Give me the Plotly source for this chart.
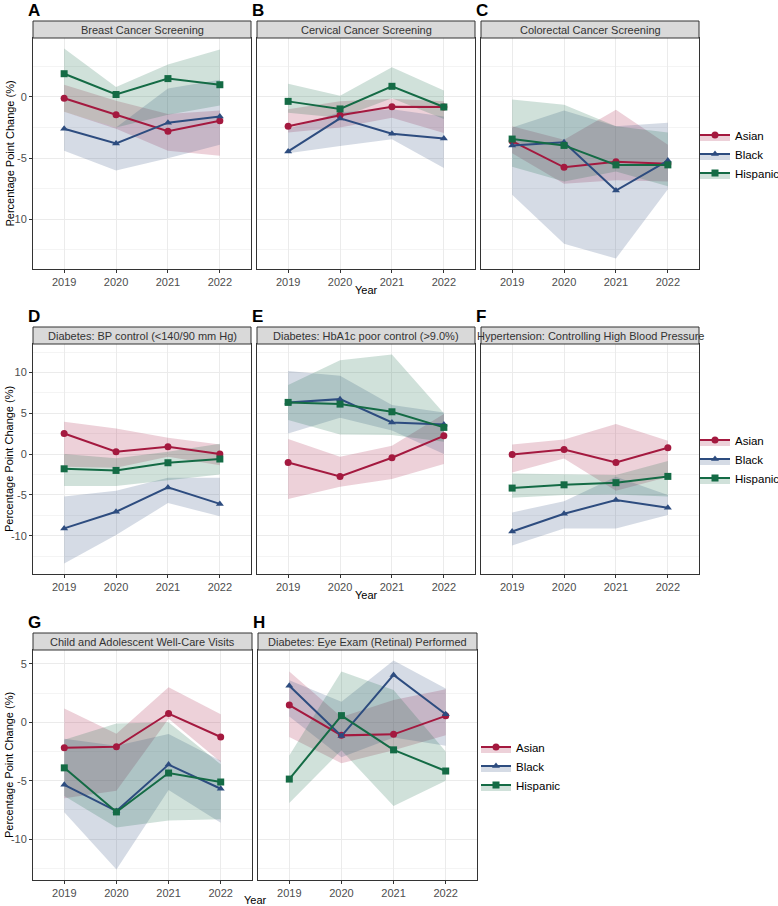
import plotly.graph_objects as go

W, H = 778, 906
FONT = "Liberation Sans, Arial, sans-serif"

years = [2019, 2020, 2021, 2022]
groups = ["Asian", "Black", "Hispanic"]
group_colors = ["#A4193F", "#2D4C7F", "#146B45"]
group_fills = ["rgba(164,25,63,0.2)", "rgba(45,76,127,0.2)", "rgba(20,107,69,0.2)"]
group_symbols = ["circle", "triangle-up", "square"]

panel_titles = [
    "Breast Cancer Screening", "Cervical Cancer Screening", "Colorectal Cancer Screening",
    "Diabetes: BP control (<140/90 mm Hg)", "Diabetes: HbA1c poor control (>9.0%)",
    "Hypertension: Controlling High Blood Pressure",
    "Child and Adolescent Well-Care Visits", "Diabetes: Eye Exam (Retinal) Performed",
]
panel_letters = ["A", "B", "C", "D", "E", "F", "G", "H"]

# ---- A: Breast Cancer Screening
A_asian_mean = [-0.1, -1.45, -2.8, -1.95]
A_asian_lo = [-1.2, -2.6, -4.4, -4.8]
A_asian_hi = [1.0, -0.3, -1.4, -1.1]
A_black_mean = [-2.6, -3.8, -2.1, -1.6]
A_black_lo = [-4.4, -6.0, -5.0, -3.9]
A_black_hi = [-1.2, -2.5, 0.7, 1.4]
A_hisp_mean = [1.9, 0.2, 1.5, 1.0]
A_hisp_lo = [-1.2, -2.5, -1.45, -0.7]
A_hisp_hi = [3.96, 0.82, 2.65, 3.88]
# ---- B: Cervical Cancer Screening
B_asian_mean = [-2.4, -1.5, -0.8, -0.82]
B_asian_lo = [-2.9, -2.5, -1.7, -2.95]
B_asian_hi = [-1.0, -0.35, -0.15, -0.35]
B_black_mean = [-4.45, -1.75, -3.0, -3.4]
B_black_lo = [-4.6, -4.0, -3.45, -5.8]
B_black_hi = [-2.6, -1.25, -1.0, -1.6]
B_hisp_mean = [-0.36, -0.98, 0.87, -0.82]
B_hisp_lo = [-1.3, -1.7, -0.1, -1.8]
B_hisp_hi = [1.07, 0.1, 2.43, 0.52]
# ---- C: Colorectal Cancer Screening
C_asian_mean = [-3.6, -5.75, -5.3, -5.45]
C_asian_lo = [-4.6, -7.1, -6.8, -6.9]
C_asian_hi = [-2.4, -3.5, -1.05, -3.9]
C_black_mean = [-3.96, -3.7, -7.65, -5.2]
C_black_lo = [-8.0, -12.0, -13.2, -7.55]
C_black_hi = [-2.5, -1.1, -2.4, -2.1]
C_hisp_mean = [-3.44, -3.96, -5.55, -5.55]
C_hisp_lo = [-5.7, -6.9, -6.1, -7.3]
C_hisp_hi = [-0.2, -0.63, -2.4, -2.9]
# ---- D: Diabetes BP control
D_asian_mean = [2.53, 0.29, 0.9, 0.0]
D_asian_lo = [-1.55, -1.67, -0.33, -1.35]
D_asian_hi = [3.96, 3.14, 2.0, 1.18]
D_black_mean = [-9.1, -7.06, -4.08, -6.1]
D_black_lo = [-13.4, -9.9, -6.0, -7.6]
D_black_hi = [-5.2, -4.5, -2.9, -2.9]
D_hisp_mean = [-1.8, -2.0, -1.06, -0.6]
D_hisp_lo = [-3.9, -3.9, -3.2, -2.5]
D_hisp_hi = [0.0, -0.5, 0.3, 1.26]
# ---- E: Diabetes HbA1c poor control
E_asian_mean = [-1.02, -2.73, -0.45, 2.24]
E_asian_lo = [-5.5, -4.0, -3.06, -1.22]
E_asian_hi = [1.84, -0.33, 1.02, 4.9]
E_black_mean = [6.33, 6.73, 3.88, 3.63]
E_black_lo = [2.53, 4.45, 2.9, 0.0]
E_black_hi = [10.16, 9.6, 6.0, 5.1]
E_hisp_mean = [6.33, 6.12, 5.18, 3.27]
E_hisp_lo = [4.16, 2.4, 2.33, 1.5]
E_hisp_hi = [8.45, 11.5, 12.2, 5.0]
# ---- F: Hypertension
F_asian_mean = [-0.04, 0.57, -1.02, 0.78]
F_asian_lo = [-2.24, -0.53, -4.5, -2.8]
F_asian_hi = [1.18, 1.8, 3.67, 1.63]
F_black_mean = [-9.47, -7.3, -5.63, -6.57]
F_black_lo = [-11.2, -9.1, -9.1, -7.47]
F_black_hi = [-7.14, -5.76, -2.78, -5.0]
F_hisp_mean = [-4.16, -3.76, -3.5, -2.73]
F_hisp_lo = [-5.35, -5.0, -4.94, -5.2]
F_hisp_hi = [-2.37, -2.45, -2.57, -0.86]
# ---- G: Child and Adolescent Well-Care Visits
G_asian_mean = [-2.18, -2.1, 0.75, -1.26]
G_asian_lo = [-6.5, -5.86, 0.3, -3.4]
G_asian_hi = [1.18, -0.98, 3.0, 0.69]
G_black_mean = [-5.35, -7.6, -3.62, -5.69]
G_black_lo = [-7.7, -12.6, -5.8, -8.6]
G_black_hi = [-1.4, -2.0, -1.0, -3.3]
G_hisp_mean = [-3.9, -7.67, -4.34, -5.11]
G_hisp_lo = [-6.3, -9.0, -8.4, -8.3]
G_hisp_hi = [-1.5, -0.1, 0.0, -3.6]
# ---- H: Diabetes Eye Exam
H_asian_mean = [1.47, -1.12, -1.03, 0.55]
H_asian_lo = [-1.26, -3.5, -2.4, -1.12]
H_asian_hi = [4.34, 0.46, 1.9, 2.82]
H_black_mean = [3.13, -1.18, 4.05, 0.69]
H_black_lo = [0.5, -3.0, -1.3, -2.0]
H_black_hi = [3.6, 1.75, 5.29, 2.9]
H_hisp_mean = [-4.86, 0.57, -2.36, -4.17]
H_hisp_lo = [-6.9, -2.4, -7.16, -5.0]
H_hisp_hi = [-2.84, 4.34, 2.76, -2.5]

panels = [
    [(A_asian_mean, A_asian_lo, A_asian_hi), (A_black_mean, A_black_lo, A_black_hi), (A_hisp_mean, A_hisp_lo, A_hisp_hi)],
    [(B_asian_mean, B_asian_lo, B_asian_hi), (B_black_mean, B_black_lo, B_black_hi), (B_hisp_mean, B_hisp_lo, B_hisp_hi)],
    [(C_asian_mean, C_asian_lo, C_asian_hi), (C_black_mean, C_black_lo, C_black_hi), (C_hisp_mean, C_hisp_lo, C_hisp_hi)],
    [(D_asian_mean, D_asian_lo, D_asian_hi), (D_black_mean, D_black_lo, D_black_hi), (D_hisp_mean, D_hisp_lo, D_hisp_hi)],
    [(E_asian_mean, E_asian_lo, E_asian_hi), (E_black_mean, E_black_lo, E_black_hi), (E_hisp_mean, E_hisp_lo, E_hisp_hi)],
    [(F_asian_mean, F_asian_lo, F_asian_hi), (F_black_mean, F_black_lo, F_black_hi), (F_hisp_mean, F_hisp_lo, F_hisp_hi)],
    [(G_asian_mean, G_asian_lo, G_asian_hi), (G_black_mean, G_black_lo, G_black_hi), (G_hisp_mean, G_hisp_lo, G_hisp_hi)],
    [(H_asian_mean, H_asian_lo, H_asian_hi), (H_black_mean, H_black_lo, H_black_hi), (H_hisp_mean, H_hisp_lo, H_hisp_hi)],
]
panel_row = [0, 0, 0, 1, 1, 1, 2, 2]

# ---- layout geometry (pixels)
col_x = {0: [(33, 251), (257, 475), (481, 699)],
         1: [(33, 251), (257, 475), (481, 699)],
         2: [(33, 252), (258, 477)]}
row_y = [(21, 38, 269), (327, 344, 574), (633, 650, 880)]  # strip top, plot top, plot bottom
legend_pos = [(695, 154), (695, 459), (476, 766)]
year_title_pos = [(366, 290), (366, 595), (255, 900)]


def px_x(p):
    return p / W


def px_y(p):
    return 1 - p / H


# y ranges per row with 5% expansion (ggplot style)
row_ranges = []
for r in range(3):
    vals = []
    for i, p in enumerate(panels):
        if panel_row[i] == r:
            for m, lo, hi in p:
                vals += m + lo + hi
    lo_v, hi_v = min(vals), max(vals)
    pad = 0.05 * (hi_v - lo_v)
    row_ranges.append([lo_v - pad, hi_v + pad])


def tick_list(rng):
    vals = [v for v in range(-20, 25, 5) if rng[0] <= v <= rng[1]]
    return vals, [str(v) for v in vals]


fig = go.Figure()
layout_axes = {}
shapes = []
annotations = []
col_counter = {0: 0, 1: 0, 2: 0}

for i, p in enumerate(panels):
    r = panel_row[i]
    c = col_counter[r]
    col_counter[r] += 1
    x0, x1 = col_x[r][c]
    st, pt, pb = row_y[r]
    n = i + 1
    xa = "x" if n == 1 else f"x{n}"
    ya = "y" if n == 1 else f"y{n}"
    xkey = "xaxis" if n == 1 else f"xaxis{n}"
    ykey = "yaxis" if n == 1 else f"yaxis{n}"
    tv, tt = tick_list(row_ranges[r])
    layout_axes[xkey] = dict(
        domain=[px_x(x0), px_x(x1)], anchor=ya, range=[2018.4, 2022.6],
        tickvals=years, ticktext=[str(y) for y in years],
        showgrid=True, gridcolor="#EBEBEB", gridwidth=1, zeroline=False,
        showline=True, mirror=True, linecolor="#333333", linewidth=1,
        ticks="outside", ticklen=3, tickcolor="#333333",
        tickfont=dict(family=FONT, size=11, color="#4D4D4D"),
    )
    layout_axes[ykey] = dict(
        domain=[px_y(pb), px_y(pt)], anchor=xa, range=row_ranges[r],
        tickmode="array", tickvals=tv, ticktext=tt,
        showgrid=True, gridcolor="#EBEBEB", gridwidth=1,
        minor=dict(tickmode="linear", tick0=2.5, dtick=5, showgrid=True, gridcolor="#F4F4F4", gridwidth=1),
        zeroline=False, showline=True, mirror=True, linecolor="#333333", linewidth=1,
        ticks="outside" if c == 0 else "", ticklen=3, tickcolor="#333333",
        showticklabels=(c == 0),
        tickfont=dict(family=FONT, size=11, color="#4D4D4D"),
    )
    # ribbons
    for g, (m, lo, hi) in enumerate(p):
        fig.add_trace(go.Scatter(
            x=years + years[::-1], y=hi + lo[::-1], xaxis=xa, yaxis=ya,
            fill="toself", fillcolor=group_fills[g], mode="lines",
            line=dict(width=0, color=group_fills[g]), showlegend=False, hoverinfo="skip",
        ))
    # lines + points
    for g, (m, lo, hi) in enumerate(p):
        fig.add_trace(go.Scatter(
            x=years, y=m, xaxis=xa, yaxis=ya, mode="lines+markers",
            line=dict(color=group_colors[g], width=2),
            marker=dict(symbol=group_symbols[g], size=7, color=group_colors[g]),
            name=groups[g], showlegend=False,
        ))
    # strip
    shapes.append(dict(type="rect", xref="paper", yref="paper",
                       x0=px_x(x0), x1=px_x(x1), y0=px_y(pt), y1=px_y(st),
                       fillcolor="#D9D9D9", line=dict(color="#333333", width=1), layer="above"))
    annotations.append(dict(x=px_x((x0 + x1) / 2), y=px_y((st + pt) / 2), xref="paper", yref="paper",
                            text=panel_titles[i], showarrow=False, xanchor="center", yanchor="middle",
                            font=dict(family=FONT, size=11, color="#333333")))
    # panel letter
    annotations.append(dict(x=px_x(x0 - 7), y=px_y(st - 11), xref="paper", yref="paper",
                            text=f"<b>{panel_letters[i]}</b>", showarrow=False,
                            xanchor="left", yanchor="middle",
                            font=dict(family=FONT, size=17, color="#000000")))

# legends (one per row)
legend_names = ["legend", "legend2", "legend3"]
for r in range(3):
    for g in range(3):
        fig.add_trace(go.Scatter(
            x=[None], y=[None], mode="lines+markers", fill="toself",
            fillcolor=group_fills[g], line=dict(color=group_colors[g], width=2),
            marker=dict(symbol=group_symbols[g], size=7, color=group_colors[g]),
            name=groups[g], legend=legend_names[r], showlegend=True,
        ))

legends = {}
for r in range(3):
    lx, ly = legend_pos[r]
    legends[legend_names[r]] = dict(
        x=px_x(lx), y=px_y(ly), xref="paper", yref="paper", xanchor="left", yanchor="middle",
        font=dict(family=FONT, size=11.5, color="#000000"), bgcolor="rgba(0,0,0,0)",
        itemwidth=30, tracegroupgap=0, borderwidth=0,
    )

# axis titles
for r in range(3):
    st, pt, pb = row_y[r]
    annotations.append(dict(x=px_x(9), y=px_y((pt + pb) / 2), xref="paper", yref="paper",
                            text="Percentage Point Change (%)", textangle=-90, showarrow=False,
                            xanchor="center", yanchor="middle",
                            font=dict(family=FONT, size=11, color="#000000")))
    yx, yy = year_title_pos[r]
    annotations.append(dict(x=px_x(yx), y=px_y(yy), xref="paper", yref="paper",
                            text="Year", showarrow=False, xanchor="center", yanchor="middle",
                            font=dict(family=FONT, size=11, color="#000000")))

fig.update_layout(
    width=W, height=H, margin=dict(l=0, r=0, t=0, b=0, autoexpand=False),
    paper_bgcolor="white", plot_bgcolor="white",
    shapes=shapes, annotations=annotations, hovermode=False,
    **layout_axes, **legends,
)

fig.write_html("out.html", config={"displayModeBar": False},
               post_script="document.body.style.margin='0';document.body.style.padding='0';document.body.style.overflow='hidden';")
